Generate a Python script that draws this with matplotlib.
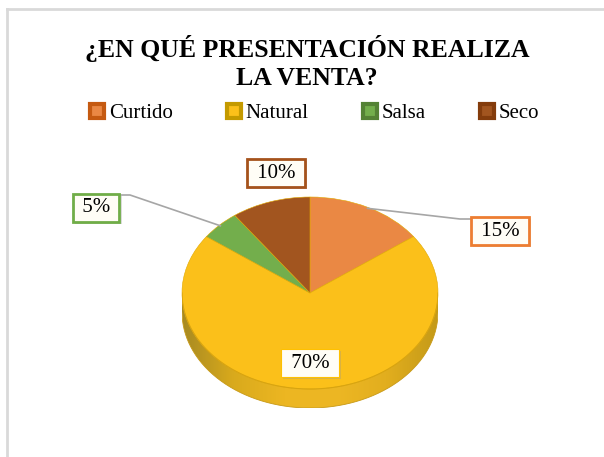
import numpy as np
import matplotlib.pyplot as plt
import matplotlib.patheffects as pe
from matplotlib.lines import Line2D
from matplotlib.colors import LinearSegmentedColormap
from matplotlib.transforms import IdentityTransform

labels = ["Curtido", "Natural", "Salsa", "Seco"]
values = [15, 70, 5, 10]
colors = ["#EA8844", "#FBC01A", "#73AE4C", "#A2551F"]
legend_edges = ["#C55A11", "#C49A00", "#548235", "#843C0C"]
box_edges = ["#ED7D31", "#FFC000", "#70AD47", "#A5521B"]
title = "¿EN QUÉ PRESENTACIÓN REALIZA\nLA VENTA?"

# layout (pixels from top-left of the 604x457 image)
W, H = 604, 457
label_pos = [(500, 231), (310, 363), (96, 208), (276, 173)]
leader_kinks = {0: [(460, 219), (472, 219)], 2: [(130, 195), (120, 195)]}
depth = 19 / 96

fig = plt.figure(figsize=(W / 100, H / 100), dpi=100)

def fx(x):
    return x / W

def fy(y):
    return 1 - y / H

# chart frame (only top and left edges visible)
fig.add_artist(Line2D([fx(7), fx(7)], [fy(9), 0], color="#D9D9D9", lw=2))
fig.add_artist(Line2D([fx(7), 1], [fy(9), fy(9)], color="#D9D9D9", lw=2))

fig.text(fx(307), fy(35), title, ha="center", va="top", fontsize=18.5,
         fontweight="bold", family="Liberation Serif", linespacing=1.3)

# legend
handles = [Line2D([], [], ls="none", marker="s", markersize=9.5, markeredgewidth=3,
                  markerfacecolor=c, markeredgecolor=e)
           for c, e in zip(colors, legend_edges)]
fig.legend(handles, labels, loc="center", bbox_to_anchor=(fx(313), fy(113)), ncol=4,
           frameon=False, prop={"family": "Liberation Serif", "size": 15},
           handlelength=1.0, handletextpad=0.05, columnspacing=2.45, borderaxespad=0)

# pie, drawn as a tilted disc
ax = fig.add_axes([fx(182), fy(408), 256 / W, 211 / H])
wedges, _ = ax.pie(values, colors=colors, startangle=90, counterclock=False,
                   wedgeprops={"edgecolor": "#E0A800", "linewidth": 0.4})
for w in wedges:
    w.set_zorder(3)

# front side of the disc (Natural) with a horizontal shading
xs = np.linspace(-1, 1, 400)
top = -np.sqrt(np.clip(1 - xs ** 2, 0, None))
side = ax.fill_between(xs, top, top - depth, color="none", lw=0)
shade = LinearSegmentedColormap.from_list(
    "side", ["#A88A22", "#D9AA1C", "#ECB622", "#EDB724", "#E2AE1E", "#C49A18"])
grad = np.linspace(0, 1, 256).reshape(1, -1)
img = ax.imshow(grad, cmap=shade, extent=(-1, 1, -1 - depth, 0), aspect="auto",
                zorder=1, interpolation="bicubic")
img.set_clip_path(side.get_paths()[0], transform=ax.transData)
ax.set_aspect("auto")
ax.set_xlim(-1, 1)
ax.set_ylim(-1 - depth, 1)
ax.axis("off")
arc = np.linspace(np.pi, 2 * np.pi, 200)
ax.plot(np.cos(arc), np.sin(arc), color="#D8A410", lw=0.8, zorder=4)
ax.plot(np.cos(arc), np.sin(arc) - depth, color="#C89A18", lw=0.6, zorder=2)

# data labels
fig.canvas.draw()
for i, w in enumerate(wedges):
    txt = f"{values[i] / sum(values):.0%}"
    x, y = label_pos[i]
    lw = 0.8 if i == 1 else 2
    t = fig.text(fx(x), fy(y), " " + txt + " ", ha="center", va="center", fontsize=15,
                 family="Liberation Serif", zorder=6,
                 bbox=dict(boxstyle="square,pad=0.2", fc="#FFFDF6", ec=box_edges[i], lw=lw))
    t.get_bbox_patch().set_path_effects(
        [pe.SimplePatchShadow(offset=(1.5, -1.5), shadow_rgbFace="#999999", alpha=0.35),
         pe.Normal()])
    if i in leader_kinks:
        mid = np.deg2rad((w.theta1 + w.theta2) / 2)
        px, py = ax.transData.transform((0.99 * np.cos(mid), 0.99 * np.sin(mid)))
        pts = [(px, py)] + [(kx, H - ky) for kx, ky in leader_kinks[i]]
        fig.add_artist(Line2D([p[0] for p in pts], [p[1] for p in pts], color="#A6A6A6",
                              lw=1.2, transform=IdentityTransform(), zorder=5))

fig.savefig("out.png", dpi=100)
